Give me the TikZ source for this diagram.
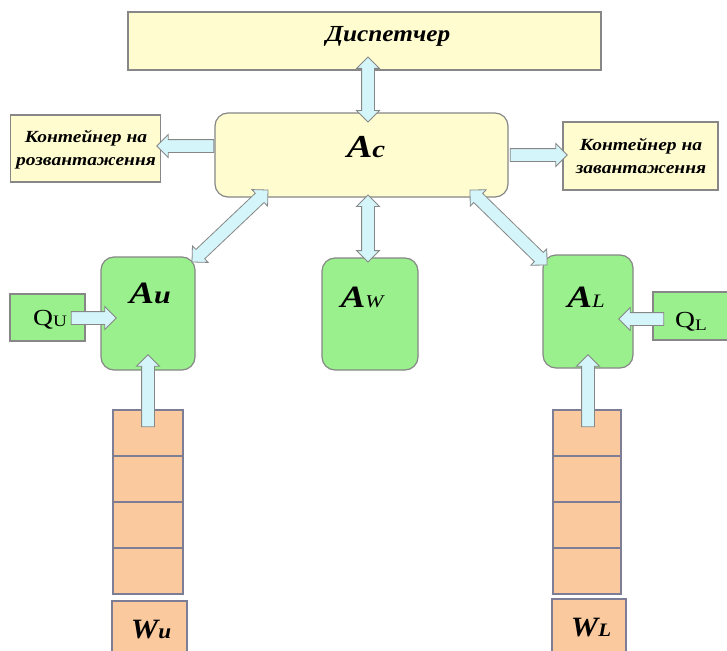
\documentclass[tikz,border=0pt]{standalone}
\usepackage{fontspec}
\usepackage{graphicx}
\setmainfont{Liberation Serif}
\usetikzlibrary{shapes.arrows,calc}
\definecolor{ybox}{RGB}{255,253,208}
\definecolor{gbox}{RGB}{153,240,140}
\definecolor{pbox}{RGB}{250,202,158}
\definecolor{abox}{RGB}{212,246,250}
\definecolor{edge}{RGB}{135,135,135}
\definecolor{pedge}{RGB}{125,125,150}
\newcommand{\sx}[2][1.18]{\scalebox{#1}[1]{#2}}
\tikzset{
  ybx/.style={draw=edge,fill=ybox,line width=1.2pt,inner sep=0pt},
  gbx/.style={draw=edge,fill=gbox,line width=1.2pt,inner sep=0pt,rounded corners=13pt},
  pbx/.style={draw=pedge,fill=pbox,line width=1.2pt,inner sep=0pt,minimum height=46pt},
  fatsingle/.style={single arrow,draw=edge,fill=abox,line width=0.8pt,inner xsep=0pt,inner ysep=6pt,
    single arrow head extend=5pt,single arrow head indent=0pt},
  fatdouble/.style={double arrow,draw=edge,fill=abox,line width=0.8pt,inner xsep=0pt,inner ysep=6pt,
    double arrow head extend=5pt,double arrow head indent=0pt},
  lbl/.style={font=\bfseries\itshape,inner sep=0pt},
}
\newcommand{\fatone}[3]{\path let \p1=(#2), \p2=(#3), \n1={atan2(\y2-\y1,\x2-\x1)}, \n2={veclen(\x2-\x1,\y2-\y1)} in node[fatsingle,minimum height=\n2,rotate=\n1] (#1) at ($(\p1)!0.5!(\p2)$) {};}
\newcommand{\fattwo}[3]{\path let \p1=(#2), \p2=(#3), \n1={atan2(\y2-\y1,\x2-\x1)}, \n2={veclen(\x2-\x1,\y2-\y1)} in node[fatdouble,minimum height=\n2,rotate=\n1] (#1) at ($(\p1)!0.5!(\p2)$) {};}
\newcommand{\twolines}[2]{\sx[1.15]{\fontsize{17}{23}\selectfont\begin{tabular}{@{}c@{}}#1\\#2\end{tabular}}}
\begin{document}
\begin{tikzpicture}[x=1pt,y=-1pt]
\clip (0,0) rectangle (727,650);
\useasboundingbox (0,0) rectangle (727,650);
\fill[white] (0,0) rectangle (727,650);
% boxes
\node[ybx,minimum width=473pt,minimum height=58pt] (disp) at (364.5,41) {};
\node[lbl] (dispt) at (388,36) {\sx[1.1]{\fontsize{23}{26}\selectfont Диспетчер}};
\node[ybx,rounded corners=13pt,minimum width=293pt,minimum height=84pt] (ac) at (361.5,155) {};
\node[lbl] (act) at (366,147) {\sx[1.2]{\fontsize{32}{32}\selectfont A\fontsize{24}{24}\selectfont c}};
\node[ybx,minimum width=150pt,minimum height=67pt] (lc) at (85.5,148.5) {};
\node[lbl] (lct) at (86,149) {\twolines{Контейнер на}{розвантаження}};
\node[ybx,minimum width=155pt,minimum height=68pt] (rc) at (640.5,156) {};
\node[lbl] (rct) at (641,157) {\twolines{Контейнер на}{завантаження}};
% agents
\node[gbx,minimum width=94pt,minimum height=113pt] (au) at (148,313.5) {};
\node[lbl] (aut) at (150,293) {\sx[1.2]{\fontsize{31}{31}\selectfont A\fontsize{25}{25}\selectfont u}};
\node[gbx,minimum width=96pt,minimum height=112pt] (aw) at (370,314) {};
\node[inner sep=0pt] (awt) at (362,297) {\sx[1.2]{\fontsize{31}{31}\selectfont\bfseries\itshape A\mdseries\fontsize{18}{18}\selectfont W}};
\node[gbx,minimum width=90pt,minimum height=113pt] (al) at (588,311.5) {};
\node[inner sep=0pt] (alt) at (586,297) {\sx[1.2]{\fontsize{31}{31}\selectfont\bfseries\itshape A\mdseries\fontsize{19}{19}\selectfont L}};
\node[draw=edge,fill=gbox,line width=1.2pt,minimum width=75pt,minimum height=47pt] (qu) at (47.5,317.5) {};
\node[inner sep=0pt] (qut) at (50,320) {\sx[1.2]{\fontsize{23}{23}\selectfont Q\raisebox{-1pt}{\fontsize{16}{16}\selectfont U}}};
\node[draw=edge,fill=gbox,line width=1.2pt,minimum width=80pt,minimum height=48pt] (ql) at (693,316) {};
\node[inner sep=0pt] (qlt) at (691,322) {\sx[1.2]{\fontsize{23}{23}\selectfont Q\raisebox{-3pt}{\fontsize{16}{16}\selectfont L}}};
% stacks
\node[pbx,minimum width=70pt] (su1) at (148,433) {};
\node[pbx,minimum width=70pt] (su2) at (148,479) {};
\node[pbx,minimum width=70pt] (su3) at (148,525) {};
\node[pbx,minimum width=70pt] (su4) at (148,571) {};
\node[pbx,minimum width=68pt] (sl1) at (587,433) {};
\node[pbx,minimum width=68pt] (sl2) at (587,479) {};
\node[pbx,minimum width=68pt] (sl3) at (587,525) {};
\node[pbx,minimum width=68pt] (sl4) at (587,571) {};
\node[draw=pedge,fill=pbox,line width=1.2pt,minimum width=75pt,minimum height=60pt] (wu) at (149.5,631) {};
\node[lbl] (wut) at (151,630) {\sx[1.1]{\fontsize{28}{28}\selectfont W\fontsize{21}{21}\selectfont u}};
\node[draw=pedge,fill=pbox,line width=1.2pt,minimum width=74pt,minimum height=60pt] (wl) at (589,629) {};
\node[lbl] (wlt) at (591,628) {\sx[1.1]{\fontsize{28}{28}\selectfont W\fontsize{19}{19}\selectfont L}};
% arrow end points
\coordinate (d1) at (368,57);
\coordinate (d2) at (368,122);
\coordinate (lc1) at (217,146);
\coordinate (lc2) at (160,146);
\coordinate (rc1) at (507,155);
\coordinate (rc2) at (564,155);
\coordinate (u1) at (268,190);
\coordinate (u2) at (192,262);
\coordinate (w1) at (368,195);
\coordinate (w2) at (368,262);
\coordinate (l1) at (470,190);
\coordinate (l2) at (547,265);
\coordinate (q1) at (68,318);
\coordinate (q2) at (113,318);
\coordinate (ql1) at (667,319);
\coordinate (ql2) at (622,319);
\coordinate (s1) at (148,430);
\coordinate (s2) at (148,358);
\coordinate (sr1) at (588,430);
\coordinate (sr2) at (588,358);
% arrows
\fattwo{adisp}{d1}{d2}
\fatone{alc}{lc1}{lc2}
\fatone{arc}{rc1}{rc2}
\fattwo{aau}{u1}{u2}
\fattwo{aaw}{w1}{w2}
\fattwo{aal}{l1}{l2}
\fatone{aqu}{q1}{q2}
\fatone{aql}{ql1}{ql2}
\fatone{asu}{s1}{s2}
\fatone{asl}{sr1}{sr2}
\end{tikzpicture}
\end{document}
